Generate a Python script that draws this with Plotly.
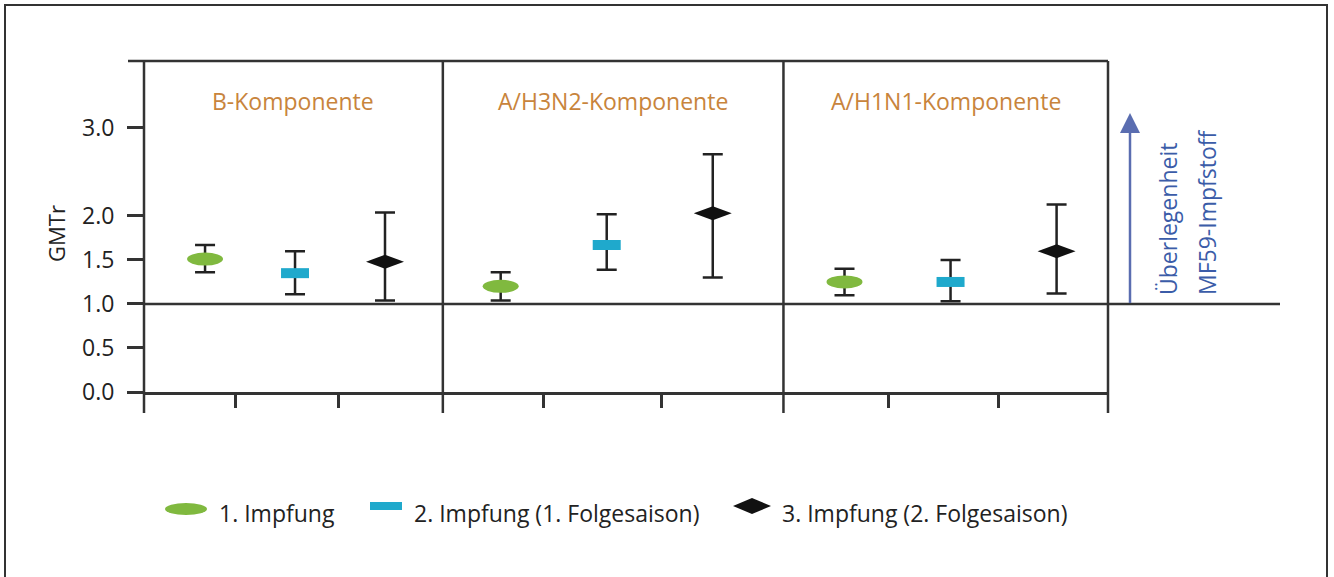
import plotly.graph_objects as go

# ---------------- data ----------------
components = ["B-Komponente", "A/H3N2-Komponente", "A/H1N1-Komponente"]
series_names = ["1. Impfung", "2. Impfung (1. Folgesaison)", "3. Impfung (2. Folgesaison)"]

gmtr_1 = [1.51, 1.20, 1.25]
low_1 = [1.36, 1.04, 1.10]
high_1 = [1.67, 1.36, 1.40]

gmtr_2 = [1.35, 1.67, 1.25]
low_2 = [1.11, 1.39, 1.03]
high_2 = [1.60, 2.02, 1.50]

gmtr_3 = [1.48, 2.03, 1.60]
low_3 = [1.04, 1.30, 1.12]
high_3 = [2.04, 2.70, 2.13]

y_tick_values = [0.0, 0.5, 1.0, 1.5, 2.0, 3.0]
y_tick_labels = ["0.0", "0.5", "1.0", "1.5", "2.0", "3.0"]
reference_value = 1.0
y_axis_title = "GMTr"
arrow_label = ["Überlegenheit", "MF59-Impfstoff"]

# ---------------- layout constants ----------------
W, H = 1334, 577
ML, MR, MT, MB = 144, 226, 61, 185
PW, PH = W - ML - MR, H - MT - MB
Y_MAX = 3.76
X_RANGE = [0.0, 3.0]

panel_edges = [0.0, 0.93, 1.99, 3.0]
group_centers = [0.47, 1.44, 2.51]
group_spacing = [0.28, 0.33, 0.33]
slots = [-1, 0, 1]
minor_ticks = [0.286, 0.604, 1.242, 1.609, 2.318, 2.658]

FONT = "Open Sans"
AX_COL = "#333333"
TXT_COL = "#222222"
TITLE_COL = "#c8843c"
BLUE_TXT = "#3b5ca8"
ARROW_COL = "#5a6db0"
COLORS = ["#80b93f", "#1fa9cc", "#111111"]


def fx(px):
    return (px - ML) / PW


def fy(py):
    return (H - MB - py) / PH


series = [
    (gmtr_1, low_1, high_1),
    (gmtr_2, low_2, high_2),
    (gmtr_3, low_3, high_3),
]

fig = go.Figure()
shapes = []

for s, (vals, lows, highs) in enumerate(series):
    xs = [group_centers[g] + slots[s] * group_spacing[g] for g in range(len(components))]
    fig.add_trace(go.Scatter(
        x=xs, y=vals, mode="markers", name=series_names[s], showlegend=False,
        marker=dict(size=1, color="rgba(0,0,0,0)"),
        error_y=dict(type="data", symmetric=False,
                     array=[h - v for h, v in zip(highs, vals)],
                     arrayminus=[v - l for v, l in zip(vals, lows)],
                     color=TXT_COL, thickness=2.5, width=10),
        hoverinfo="skip",
    ))
    for x, v in zip(xs, vals):
        base = dict(xref="x", yref="y", xsizemode="pixel", ysizemode="pixel",
                    xanchor=x, yanchor=v, layer="above", fillcolor=COLORS[s],
                    line=dict(width=0))
        if s == 0:
            shapes.append(dict(type="circle", x0=-18, x1=18, y0=-6.5, y1=6.5, **base))
        elif s == 1:
            shapes.append(dict(type="rect", x0=-14, x1=14, y0=-5, y1=5, **base))
        else:
            shapes.append(dict(type="path", path="M -19,0 L 0,7 L 19,0 L 0,-7 Z", **base))

# frame: top border (extends left like a tick)
shapes.append(dict(type="line", xref="paper", yref="paper", x0=fx(128), x1=1, y0=1, y1=1,
                   line=dict(color=AX_COL, width=2.5)))
# long vertical lines at panel edges (incl. left axis and right frame), unclipped
for e in panel_edges:
    xp = (e - X_RANGE[0]) / (X_RANGE[1] - X_RANGE[0])
    shapes.append(dict(type="line", xref="paper", yref="paper", x0=xp, x1=xp, y0=fy(413), y1=1,
                       line=dict(color=AX_COL, width=2.5)))
# reference line at 1.0
shapes.append(dict(type="line", xref="paper", yref="y", x0=0, x1=fx(1280),
                   y0=reference_value, y1=reference_value, line=dict(color=AX_COL, width=2.5)))
# blue arrow
shapes.append(dict(type="line", xref="paper", yref="paper", x0=fx(1130), x1=fx(1130),
                   y0=fy(303), y1=fy(128), line=dict(color=ARROW_COL, width=2.5)))
shapes.append(dict(type="path", xref="paper", yref="paper",
                   path=f"M {fx(1130)},{fy(113)} L {fx(1140)},{fy(133)} L {fx(1120)},{fy(133)} Z",
                   fillcolor=ARROW_COL, line=dict(width=0)))
# outer border
shapes.append(dict(type="rect", xref="paper", yref="paper", x0=fx(5), x1=fx(1327),
                   y0=fy(585), y1=fy(5), line=dict(color=AX_COL, width=2)))

# legend markers
shapes.append(dict(type="circle", xref="paper", yref="paper", x0=fx(165), x1=fx(207),
                   y0=fy(515), y1=fy(503), fillcolor=COLORS[0], line=dict(width=0)))
shapes.append(dict(type="rect", xref="paper", yref="paper", x0=fx(370), x1=fx(402),
                   y0=fy(510), y1=fy(502), fillcolor=COLORS[1], line=dict(width=0)))
shapes.append(dict(type="path", xref="paper", yref="paper",
                   path=(f"M {fx(733)},{fy(506)} L {fx(752)},{fy(498)} "
                         f"L {fx(771)},{fy(506)} L {fx(752)},{fy(514)} Z"),
                   fillcolor=COLORS[2], line=dict(width=0)))

annotations = []
# panel titles
for g, name in enumerate(components):
    annotations.append(dict(text=name, xref="x", yref="paper",
                            x=(panel_edges[g] + panel_edges[g + 1]) / 2, y=fy(101),
                            xanchor="center", yanchor="middle", showarrow=False,
                            font=dict(family=FONT, size=23, color=TITLE_COL)))
# y axis title
annotations.append(dict(text=y_axis_title, xref="paper", yref="paper", x=fx(56), y=fy(234),
                        textangle=-90, xanchor="center", yanchor="middle", showarrow=False,
                        font=dict(family=FONT, size=22, color=TXT_COL)))
# arrow label
for txt, px in zip(arrow_label, [1168, 1207]):
    annotations.append(dict(text=txt, xref="paper", yref="paper", x=fx(px), y=fy(297),
                            textangle=-90, xanchor="center", yanchor="bottom", showarrow=False,
                            font=dict(family=FONT, size=23, color=BLUE_TXT)))
# legend text
for txt, px in zip(series_names, [217, 412, 780]):
    annotations.append(dict(text=txt, xref="paper", yref="paper", x=fx(px), y=fy(513),
                            xanchor="left", yanchor="middle", showarrow=False,
                            font=dict(family=FONT, size=23, color=TXT_COL)))

fig.update_layout(
    width=W, height=H,
    margin=dict(l=ML, r=MR, t=MT, b=MB, pad=0),
    paper_bgcolor="white", plot_bgcolor="white",
    showlegend=False, hovermode=False,
    shapes=shapes, annotations=annotations,
    xaxis=dict(range=X_RANGE, tickvals=minor_ticks, showticklabels=False,
               ticks="outside", ticklen=13, tickwidth=2.5, tickcolor=AX_COL,
               showline=True, linecolor=AX_COL, linewidth=2.5,
               showgrid=False, zeroline=False, fixedrange=True),
    yaxis=dict(range=[0, Y_MAX], tickvals=y_tick_values, ticktext=y_tick_labels,
               ticks="outside", ticklen=16, tickwidth=2.5, tickcolor=AX_COL,
               ticklabelstandoff=8,
               tickfont=dict(family=FONT, size=23, color=TXT_COL),
               showline=False,
               showgrid=False, zeroline=False, fixedrange=True),
)

fig.write_html(
    "out.html",
    config={"displayModeBar": False},
    post_script="document.body.style.margin='0';document.body.style.overflow='hidden';",
)
